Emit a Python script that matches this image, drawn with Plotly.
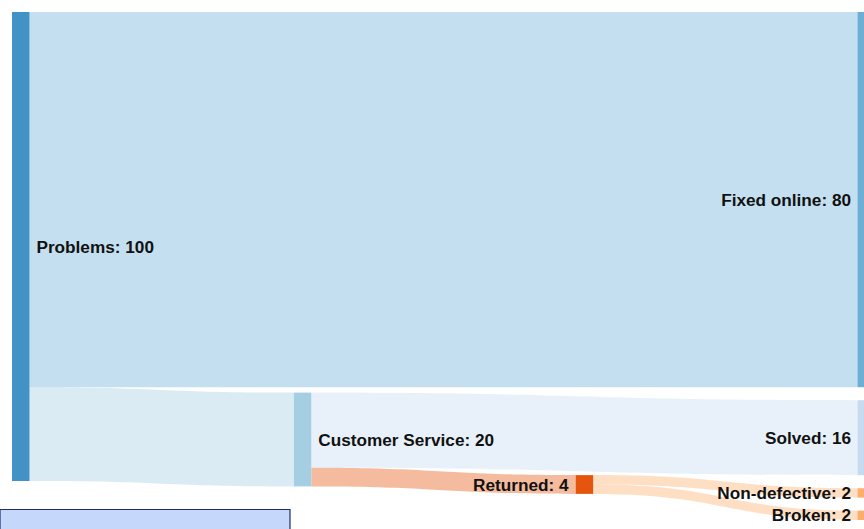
import plotly.graph_objects as go

# Support-ticket flow
node_names = ["Problems", "Fixed online", "Customer Service", "Solved",
              "Returned", "Non-defective", "Broken"]
node_colors = ["#4292c6", "#6baed6", "#a6cee3", "#c6dbef",
               "#e6550d", "#fdae6b", "#fdae6b"]

link_sources = [0, 0, 2, 2, 4, 4]
link_targets = [1, 2, 3, 4, 5, 6]
link_values = [80, 20, 16, 4, 2, 2]


def hex_to_rgba(h, a):
    h = h.lstrip("#")
    r, g, b = int(h[0:2], 16), int(h[2:4], 16), int(h[4:6], 16)
    return f"rgba({r},{g},{b},{a})"


# node totals (max of inflow / outflow) for the labels
inflow = [0] * len(node_names)
outflow = [0] * len(node_names)
for s, t, v in zip(link_sources, link_targets, link_values):
    outflow[s] += v
    inflow[t] += v
totals = [max(i, o) for i, o in zip(inflow, outflow)]
texts = [f"{n}: {v}" for n, v in zip(node_names, totals)]

link_colors = [hex_to_rgba(node_colors[t], 0.4) for t in link_targets]

W, H = 900, 560
M = dict(l=12, r=25, t=12, b=40)
THICK = 17.5
PAD = 13
FONT = dict(family="Liberation Sans, Arial, sans-serif", size=17.2,
            color="#111111", weight="bold")

pw = W - M["l"] - M["r"]
ph = H - M["t"] - M["b"]


def px_x(x):
    return (x - M["l"]) / pw


def px_y(y):
    return (H - M["b"] - y) / ph


# Node centres for the middle columns (0 = leave to the layout engine)
def col_centre(col, ncols=4):
    return (col * (pw - THICK) / (ncols - 1) + THICK / 2) / pw


RET = node_names.index("Returned")
node_x = [0, 0, col_centre(1), 0, col_centre(2), 0, 0]
node_y = [0, 0, (439.5 - M["t"]) / ph, 0, (484.5 - M["t"]) / ph, 0, 0]

# labels: a thin space keeps text a little clear of the node bars;
# the "Returned" label is drawn separately, on the left of its node
sp = "\u2009"
left_side = {"Fixed online", "Solved", "Non-defective", "Broken"}
labels = []
for n, t in zip(node_names, texts):
    if n == "Returned":
        labels.append("")
    elif n in left_side:
        labels.append(t + sp)
    else:
        labels.append(sp + t)

fig = go.Figure(go.Sankey(
    arrangement="fixed",
    node=dict(
        label=labels,
        color=node_colors,
        pad=PAD,
        thickness=THICK,
        line=dict(width=0),
        x=node_x,
        y=node_y,
    ),
    link=dict(
        source=link_sources,
        target=link_targets,
        value=link_values,
        color=link_colors,
    ),
    textfont=dict(**FONT, shadow="none"),
))

fig.add_annotation(
    xref="paper", yref="paper",
    x=node_x[RET] - (THICK / 2 + 5) / pw,
    y=1 - node_y[RET],
    text=texts[RET], showarrow=False,
    xanchor="right", yanchor="middle",
    font=FONT,
)

fig.add_shape(type="rect", xref="paper", yref="paper",
              x0=px_x(0), x1=px_x(290), y0=px_y(545), y1=px_y(509.5),
              fillcolor="#c5d7fb", line=dict(color="#1f2d6e", width=1.2),
              layer="above")

fig.update_layout(
    width=W, height=H,
    margin=M,
    paper_bgcolor="white",
    plot_bgcolor="white",
)

fig.write_html("out.html")
